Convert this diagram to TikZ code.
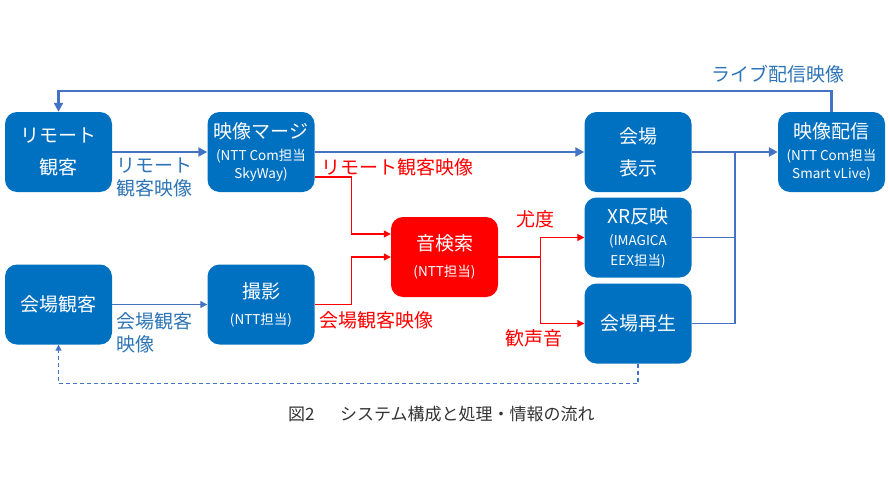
\documentclass[tikz,border=0pt]{standalone}
\usepackage{fontspec}
\setmainfont{Noto Sans CJK JP}
\usetikzlibrary{arrows.meta,calc}
\definecolor{boxblue}{HTML}{0070C0}
\definecolor{lineblue}{HTML}{4472C4}
\definecolor{lblblue}{HTML}{2E75B6}
\definecolor{myred}{HTML}{FF0000}
\definecolor{capgray}{HTML}{333333}
\newcommand{\sm}[1]{{\fontsize{13.5}{17}\selectfont #1}}
\begin{document}
\begin{tikzpicture}[x=1pt,y=-1pt,
  box/.style={fill=boxblue,rounded corners=12pt,minimum width=107pt,minimum height=80pt,
    text=white,align=center,inner sep=0pt,font=\fontsize{19}{32}\selectfont},
  redbox/.style={box,fill=myred},
  thick blue/.style={draw=lineblue,line width=2.8pt,-{Triangle[length=9pt,width=9pt]}},
  thin blue/.style={draw=lineblue,line width=1.3pt,-{Triangle[length=7pt,width=7pt]}},
  join blue/.style={draw=lineblue,line width=1.3pt},
  red line/.style={draw=myred,line width=1.3pt,-{Triangle[length=7pt,width=7pt]}},
  dash blue/.style={draw=lineblue,line width=1.1pt,dashed,dash pattern=on 4pt off 3pt,-{Triangle[length=6pt,width=6pt]}},
  blbl/.style={text=lblblue,font=\fontsize{19}{23}\selectfont,inner sep=0pt},
  rlbl/.style={text=myred,font=\fontsize{19}{23}\selectfont,inner sep=0pt}]
\useasboundingbox (0,0) rectangle (890,500);

% boxes
\node[box] (remote) at (58.5,152) {リモート\\観客};
\node[box] (merge) at (261,152) {映像マージ\\[-10pt]\sm{(NTT Com担当}\\[-14pt]\sm{SkyWay)}};
\node[box] (hyoji) at (638,152) {会場\\表示};
\node[box] (haishin) at (831.5,152) {映像配信\\[-10pt]\sm{(NTT Com担当}\\[-14pt]\sm{Smart vLive)}};
\node[box] (kaijo) at (58.5,304.5) {会場観客};
\node[box] (satsuei) at (261,304.5) {撮影\\[-6pt]\sm{(NTT担当)}};
\node[redbox] (kensaku) at (444.5,257) {音検索\\[-6pt]\sm{(NTT担当)}};
\node[box] (xr) at (638,237.5) {XR反映\\[-10pt]\sm{(IMAGICA}\\[-12pt]\sm{EEX担当)}};
\node[box] (saisei) at (638,323.5) {会場再生};

% top flow
\coordinate (topc) at (444,91);
\draw[thick blue] (haishin.north) |- (topc) -| (remote.north);
\draw[thick blue] (remote.east) -- (merge.west);
\draw[thick blue] (merge.east) -- (hyoji.west);
\draw[thick blue] (hyoji.east) -- (haishin.west);
\coordinate (jn) at (735,152);
\draw[join blue] (xr.east) -| (jn);
\draw[join blue] (saisei.east) -| (jn);

% bottom flow
\draw[thin blue] (kaijo.east) -- (satsuei.west);
\draw[red line] ([yshift=-25pt]merge.east) -- ++(37,0) |- ([yshift=23pt]kensaku.west);
\draw[red line] (satsuei.east) -- ++(37,0) |- (kensaku.west);
\draw[red line] (kensaku.east) -- ++(42,0) |- (xr.west);
\draw[red line] (kensaku.east) -- ++(42,0) |- (saisei.west);
\draw[dash blue] (saisei.south) -- ++(0,20) -| (kaijo.south);

% labels
\node[blbl] (l1) at (778,74) {ライブ配信映像};
\node[blbl,align=left,anchor=north west] (l2) at (116,158) {リモート\\観客映像};
\node[blbl,align=left,anchor=north west] (l3) at (116,312) {会場観客\\映像};
\node[rlbl] (l4) at (397,167) {リモート観客映像};
\node[rlbl] (l5) at (376,320) {会場観客映像};
\node[rlbl] (l6) at (535,219) {尤度};
\node[rlbl] (l7) at (534,338) {歓声音};

% caption
\node[text=capgray,font=\fontsize{17}{20}\selectfont,inner sep=0pt,anchor=west] (cap) at (288,414) {図2\hspace{1.5em}システム構成と処理・情報の流れ};
\end{tikzpicture}
\end{document}
